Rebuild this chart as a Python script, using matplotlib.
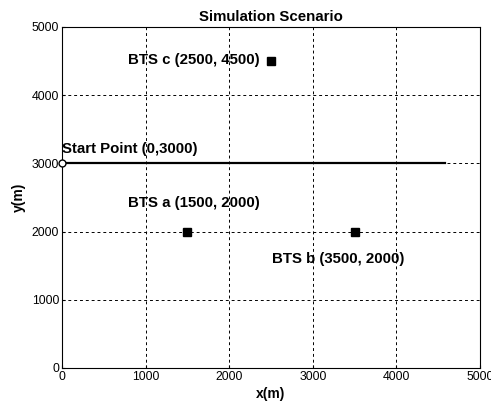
import matplotlib.pyplot as plt

# route of the mobile and base-station positions (m)
route_x = [0, 4580]
route_y = [3000, 3000]
start_pt = (0, 3000)
bts_names = ["BTS a", "BTS b", "BTS c"]
bts_x = [1500, 3500, 2500]
bts_y = [2000, 2000, 4500]
# label anchor (x, y) for each station label
label_x = [790, 2510, 790]
label_y = [2420, 1600, 4510]

plt.rcParams["font.family"] = ["Liberation Sans", "DejaVu Sans"]

fig = plt.figure(figsize=(4.91, 4.12), dpi=100)
ax = fig.add_axes([0.1263, 0.1068, 0.8513, 0.8277])

ax.plot(route_x, route_y, color="black", lw=1.6)
ax.plot(*start_pt, "o", mfc="white", mec="black", ms=5, mew=1, clip_on=False, zorder=5)
ax.text(start_pt[0], start_pt[1] + 210, "Start Point (0,3000)", fontsize=10.8,
        fontweight="bold", ha="left", va="center")

ax.plot(bts_x, bts_y, "s", color="black", ms=6, ls="none")
for name, bx, by, lx, ly in zip(bts_names, bts_x, bts_y, label_x, label_y):
    ax.text(lx, ly, f"{name} ({bx}, {by})", fontsize=10.8, fontweight="bold",
            ha="left", va="center")

ax.set_xlim(0, 5000)
ax.set_ylim(0, 5000)
ax.set_xticks(range(0, 5001, 1000))
ax.set_yticks(range(0, 5001, 1000))
ax.grid(True, color="black", ls=(0, (3, 3)), lw=0.7)
ax.tick_params(direction="in", length=2, labelsize=8.8, pad=2)
for tl in ax.get_xticklabels():
    tl.set_clip_on(False)
ax.set_xlabel("x(m)", fontsize=10, fontweight="bold", labelpad=3)
ax.set_ylabel("y(m)", fontsize=10, fontweight="bold", labelpad=4)
ax.set_title("Simulation Scenario", fontsize=10.8, fontweight="bold", pad=4)

fig.savefig("out.png", dpi=100)
